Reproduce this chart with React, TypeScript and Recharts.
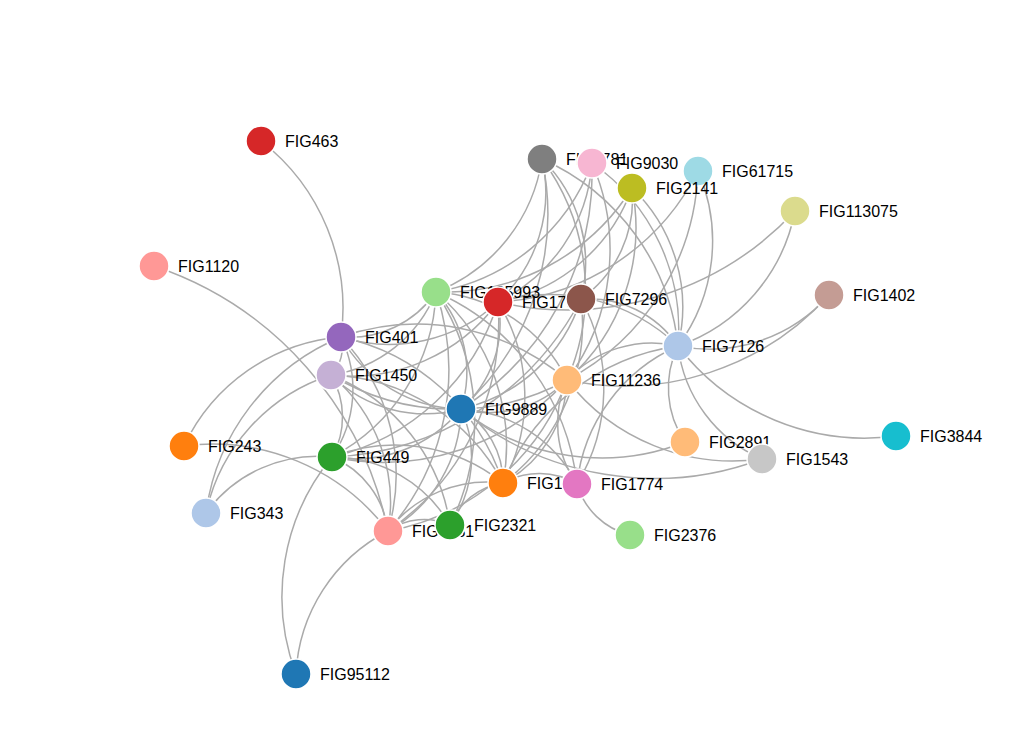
import React from 'react';
import { ScatterChart, Scatter, XAxis, YAxis } from 'recharts';

// node positions in page pixels
const nodeNames = ['FIG463', 'FIG1120', 'FIG401', 'FIG1450', 'FIG243', 'FIG449', 'FIG343', 'FIG95112', 'FIG1381', 'FIG2321', 'FIG9889', 'FIG135993', 'FIG1793', 'FIG7296', 'FIG11236', 'FIG1753', 'FIG1774', 'FIG2376', 'FIG2891', 'FIG1543', 'FIG3844', 'FIG7126', 'FIG1402', 'FIG113075', 'FIG1781', 'FIG9030', 'FIG61715', 'FIG2141'];
const nodeX = [261, 154, 341, 331, 184, 332, 206, 296, 388, 450, 461, 436, 498, 581, 567, 503, 577, 630, 685, 762, 896, 678, 829, 795, 542, 592, 698, 632];
const nodeY = [141, 266, 337, 375, 446, 457, 513, 674, 531, 525, 409, 292, 302, 299, 380, 483, 484, 535, 442, 459, 436, 346, 295, 211, 159, 163, 171, 188];
const nodeColors = ['#d62728', '#ff9896', '#9467bd', '#c5b0d5', '#ff7f0e', '#2ca02c', '#aec7e8', '#1f77b4', '#ff9896', '#2ca02c', '#1f77b4', '#98df8a', '#d62728', '#8c564b', '#ffbb78', '#ff7f0e', '#e377c2', '#98df8a', '#ffbb78', '#c7c7c7', '#17becf', '#aec7e8', '#c49c94', '#dbdb8d', '#7f7f7f', '#f7b6d2', '#9edae5', '#bcbd22'];

const edges: [string, string][] = [
  ['FIG463', 'FIG401'], ['FIG1120', 'FIG1381'], ['FIG95112', 'FIG449'], ['FIG95112', 'FIG1381'],
  ['FIG243', 'FIG401'], ['FIG243', 'FIG1381'], ['FIG343', 'FIG401'], ['FIG343', 'FIG1450'], ['FIG343', 'FIG449'],
  ['FIG3844', 'FIG7126'], ['FIG1543', 'FIG7126'], ['FIG1543', 'FIG11236'], ['FIG1543', 'FIG9889'],
  ['FIG2891', 'FIG7126'], ['FIG2891', 'FIG9889'], ['FIG2376', 'FIG1774'], ['FIG1402', 'FIG7126'], ['FIG1402', 'FIG11236'],
  ['FIG113075', 'FIG7126'], ['FIG113075', 'FIG1793'], ['FIG61715', 'FIG7126'], ['FIG61715', 'FIG11236'], ['FIG61715', 'FIG1793'],
  ['FIG1781', 'FIG135993'], ['FIG1781', 'FIG1793'], ['FIG1781', 'FIG7296'], ['FIG1781', 'FIG11236'], ['FIG1781', 'FIG7126'], ['FIG1781', 'FIG9889'],
  ['FIG9030', 'FIG135993'], ['FIG9030', 'FIG1793'], ['FIG9030', 'FIG7126'], ['FIG9030', 'FIG11236'], ['FIG9030', 'FIG9889'],
  ['FIG2141', 'FIG1793'], ['FIG2141', 'FIG7296'], ['FIG2141', 'FIG7126'], ['FIG2141', 'FIG11236'], ['FIG2141', 'FIG135993'],
  ['FIG135993', 'FIG401'], ['FIG135993', 'FIG1450'], ['FIG135993', 'FIG449'], ['FIG135993', 'FIG1381'], ['FIG135993', 'FIG9889'], ['FIG135993', 'FIG1753'], ['FIG135993', 'FIG11236'], ['FIG135993', 'FIG2321'], ['FIG135993', 'FIG1774'],
  ['FIG1793', 'FIG401'], ['FIG1793', 'FIG1450'], ['FIG1793', 'FIG449'], ['FIG1793', 'FIG9889'], ['FIG1793', 'FIG1381'], ['FIG1793', 'FIG1753'], ['FIG1793', 'FIG7126'],
  ['FIG7296', 'FIG9889'], ['FIG7296', 'FIG1753'], ['FIG7296', 'FIG1774'], ['FIG7296', 'FIG7126'], ['FIG7296', 'FIG449'],
  ['FIG11236', 'FIG9889'], ['FIG11236', 'FIG1753'], ['FIG11236', 'FIG449'], ['FIG11236', 'FIG1381'], ['FIG11236', 'FIG7126'], ['FIG11236', 'FIG1450'],
  ['FIG9889', 'FIG401'], ['FIG9889', 'FIG1450'], ['FIG9889', 'FIG449'], ['FIG9889', 'FIG1381'], ['FIG9889', 'FIG2321'], ['FIG9889', 'FIG1753'], ['FIG9889', 'FIG1774'],
  ['FIG401', 'FIG1450'], ['FIG401', 'FIG449'], ['FIG401', 'FIG1381'], ['FIG401', 'FIG1753'], ['FIG401', 'FIG11236'],
  ['FIG1450', 'FIG449'], ['FIG1450', 'FIG1381'], ['FIG1450', 'FIG1753'], ['FIG1450', 'FIG2321'],
  ['FIG449', 'FIG1381'], ['FIG449', 'FIG1753'], ['FIG449', 'FIG2321'], ['FIG1381', 'FIG1753'], ['FIG1381', 'FIG2321'],
  ['FIG1753', 'FIG1774'], ['FIG1753', 'FIG7126'], ['FIG1774', 'FIG7126'], ['FIG1774', 'FIG11236'], ['FIG2321', 'FIG1753'],
];

const nodes = nodeNames.map((name, i) => ({ name, x: nodeX[i], y: nodeY[i], color: nodeColors[i] }));
const byName = (n: string) => nodes[nodeNames.indexOf(n)];

const arcLine = (props: any) => {
  const p = props.points || [];
  if (p.length < 2) return <g />;
  const [a, b] = p;
  const dr = Math.hypot(b.x - a.x, b.y - a.y);
  return (
    <path d={`M${a.x},${a.y}A${dr},${dr} 0 0,1 ${b.x},${b.y}`} fill="none" stroke="#aaa" strokeWidth={1.5} />
  );
};

const NodeShape = (props: any) => {
  const { cx, cy, payload } = props;
  return (
    <g>
      <circle cx={cx} cy={cy} r={15} fill={payload.color} stroke="#fff" strokeWidth={1.5} />
      <text x={cx + 24} y={cy + 6} fontSize={16} fill="#000" fontFamily="Liberation Sans, Arial, sans-serif">
        {payload.name}
      </text>
    </g>
  );
};

export default function App() {
  return (
    <ScatterChart width={1010} height={748} margin={{ top: 0, right: 0, bottom: 0, left: 0 }}>
      <XAxis type="number" dataKey="x" domain={[8, 1018]} hide />
      <YAxis type="number" dataKey="y" domain={[8, 756]} reversed hide />
      {edges.map(([s, t], i) => (
        <Scatter
          key={i}
          data={[byName(s), byName(t)]}
          line={arcLine}
          shape={() => <g />}
          isAnimationActive={false}
        />
      ))}
      <Scatter data={nodes} shape={NodeShape} isAnimationActive={false} />
    </ScatterChart>
  );
}
